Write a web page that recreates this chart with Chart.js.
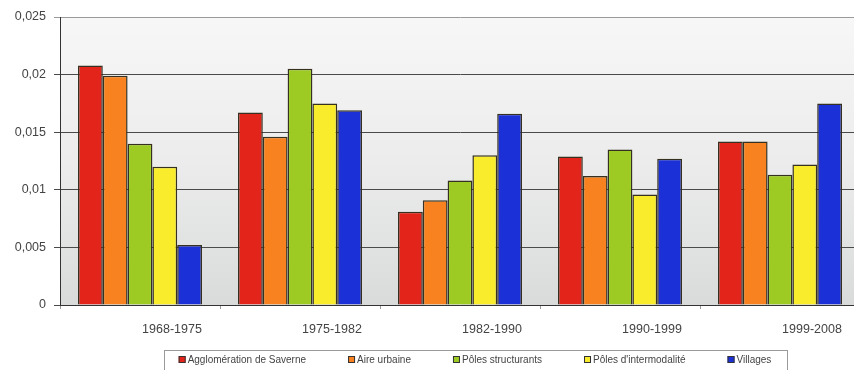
<!DOCTYPE html>
<html lang="fr">
<head>
<meta charset="utf-8">
<title>Taux de croissance annuel moyen</title>
<script src="https://cdn.jsdelivr.net/npm/chart.js@4/dist/chart.umd.min.js"></script>
<style>
  html, body { margin: 0; padding: 0; background: #fff; overflow: hidden; }
  .wrap { width: 860px; height: 370px; position: relative; }
</style>
</head>
<body>
<div class="wrap"><canvas id="croissanceChart"></canvas></div>
<script>
// Périodes intercensitaires
const periodes = ["1968-1975", "1975-1982", "1982-1990", "1990-1999", "1999-2008"];

// Taux annuel moyen par type de territoire
const agglomeration = [0.0208, 0.0167, 0.0081, 0.0129, 0.0142];
const aireUrbaine = [0.0199, 0.0146, 0.0091, 0.0112, 0.0142];
const polesStructurants = [0.0140, 0.0205, 0.0108, 0.0135, 0.0113];
const polesIntermodalite = [0.0120, 0.0175, 0.0130, 0.0096, 0.0122];
const villages = [0.0052, 0.0169, 0.0166, 0.0127, 0.0175];

const yTicks = ["0", "0,005", "0,01", "0,015", "0,02", "0,025"];

const police = "'Liberation Sans', Arial, sans-serif";

// fond dégradé de la zone de tracé
const fondPlugin = {
    id: "fond",
    beforeDraw(chart) {
        const a = chart.chartArea;
        const c = chart.ctx;
        const g = c.createLinearGradient(0, a.top, 0, a.bottom);
        g.addColorStop(0, "#f7f7f7");
        g.addColorStop(0.5, "#ececec");
        g.addColorStop(1, "#d9dbdb");
        c.save();
        c.fillStyle = g;
        c.fillRect(a.left, a.top, a.right - a.left, a.bottom - a.top);
        c.restore();
    }
};

// légende encadrée sous le graphique
const legendePlugin = {
    id: "legendeCadre",
    afterDraw(chart) {
        const c = chart.ctx;
        const sets = chart.data.datasets;
        const ecart = 42;
        c.save();
        c.font = "10px " + police;
        c.textBaseline = "middle";
        let total = 0;
        sets.forEach((ds, i) => {
            total += 9 + c.measureText(ds.label).width + (i < sets.length - 1 ? ecart : 0);
        });
        const centre = 475;
        const y = 360;
        let x = centre - total / 2;
        c.strokeStyle = "#9a9a9a";
        c.lineWidth = 1;
        c.strokeRect(Math.round(x - 15) + 0.5, 350.5, Math.round(total + 30), 30);
        sets.forEach(ds => {
            c.fillStyle = ds.backgroundColor;
            c.fillRect(x, y - 4, 7, 7);
            c.strokeStyle = "#333";
            c.strokeRect(x + 0.5, y - 3.5, 6, 6);
            c.fillStyle = "#444";
            c.fillText(ds.label, x + 9, y);
            x += 9 + c.measureText(ds.label).width + ecart;
        });
        c.restore();
    }
};

const bordure = "#35301f";

new Chart(document.getElementById("croissanceChart"), {
    type: "bar",
    data: {
        labels: periodes,
        datasets: [
            { label: "Agglomération de Saverne", data: agglomeration, backgroundColor: "#e3241b" },
            { label: "Aire urbaine", data: aireUrbaine, backgroundColor: "#f7821f" },
            { label: "Pôles structurants", data: polesStructurants, backgroundColor: "#9dcb24" },
            { label: "Pôles d'intermodalité", data: polesIntermodalite, backgroundColor: "#f9ec2c" },
            { label: "Villages", data: villages, backgroundColor: "#1b30d6" }
        ].map(ds => Object.assign(ds, {
            borderColor: bordure,
            borderWidth: 1.5,
            categoryPercentage: 0.775,
            barPercentage: 1
        }))
    },
    options: {
        responsive: true,
        maintainAspectRatio: false,
        animation: false,
        layout: { padding: { top: 17, bottom: 35, left: 0, right: 0 } },
        plugins: {
            legend: { display: false },
            tooltip: { enabled: false }
        },
        scales: {
            x: {
                afterFit: s => { s.height = 30; },
                grid: {
                    offset: true,
                    drawOnChartArea: false,
                    drawTicks: true,
                    tickLength: 4,
                    color: "#999"
                },
                border: { color: "#333", width: 1 },
                ticks: {
                    labelOffset: 32,
                    padding: 13,
                    color: "#444",
                    font: { family: police, size: 12.5 }
                }
            },
            y: {
                min: 0,
                max: 0.025,
                afterFit: s => { s.width = 60; },
                grid: {
                    color: ctx => (ctx.tick && ctx.tick.value >= 0.025 ? "#9a9a9a" : "#4a4a4a"),
                    tickLength: 6
                },
                border: { color: "#333", width: 1 },
                ticks: {
                    stepSize: 0.005,
                    padding: 8,
                    color: "#444",
                    font: { family: police, size: 12.5 },
                    callback: (v, i) => yTicks[i]
                }
            }
        }
    },
    plugins: [fondPlugin, legendePlugin]
});
</script>
</body>
</html>
